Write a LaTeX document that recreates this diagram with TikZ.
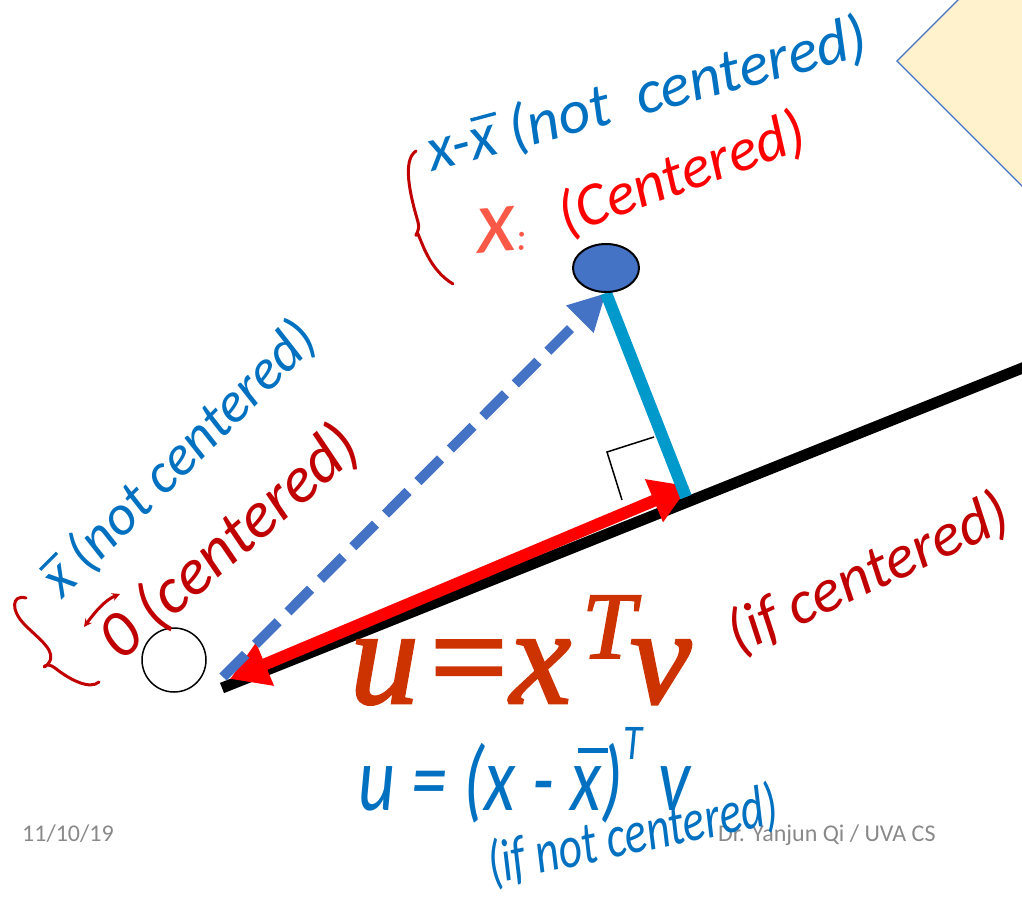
\documentclass[tikz,border=0pt]{standalone}
\usepackage{fontspec}
\setmainfont{Liberation Serif}
\newfontfamily\handfont{Carlito}
\newfontfamily\footfont{Carlito}
\newfontface\eqit{Liberation Serif Italic}[FakeBold=2]
\newfontface\equp{Liberation Serif}[FakeBold=2]
\usetikzlibrary{arrows.meta,shapes.geometric}
\definecolor{handblue}{RGB}{0,112,192}
\definecolor{handred}{RGB}{192,0,0}
\definecolor{brightred}{RGB}{255,0,0}
\definecolor{xred}{RGB}{250,60,40}
\definecolor{arrowred}{RGB}{255,0,0}
\definecolor{dashblue}{RGB}{68,114,196}
\definecolor{cyanline}{RGB}{0,153,204}
\definecolor{formulared}{RGB}{204,51,0}
\definecolor{diamondfill}{RGB}{255,242,204}
\definecolor{footgray}{RGB}{137,137,137}
\newcommand{\barx}{\leavevmode\rlap{\hspace{0.1em}\raisebox{0.62em}{\rule{0.42em}{0.055em}}}x}
\pgfdeclarelayer{bg}
\pgfsetlayers{bg,main}
\begin{document}
\begin{tikzpicture}[x=1pt,y=-1pt,
  hb/.style={text=handblue,inner sep=0pt,anchor=base west,font=\handfont\itshape\fontsize{#1}{#1}\selectfont},
  hr/.style={text=handred,inner sep=0pt,anchor=base west,font=\handfont\itshape\fontsize{#1}{#1}\selectfont},
  ink/.style={line width=3pt,line cap=round,line join=round},
  footer/.style={text=footgray,inner sep=0pt,anchor=base west,font=\footfont\fontsize{24}{24}\selectfont},
  pointnode/.style={ellipse,draw=black,line width=2pt,fill=dashblue,minimum width=66pt,minimum height=48pt,inner sep=0pt},
  originnode/.style={circle,draw=black,line width=1.5pt,minimum size=64pt,inner sep=0pt},
]
\useasboundingbox (0,0) rectangle (1022,901);
\clip (0,0) rectangle (1022,901);

% nodes on top
\node[pointnode] (pt) at (606,268) {};
\node[originnode] (orig) at (174,660) {};

\coordinate (O) at (223,677);
\coordinate (lineA) at (222,688);
\coordinate (lineB) at (1040,361);
\coordinate (foot) at (686,497);
\coordinate (redA) at (230,679);
\coordinate (redB) at (689,486);
\coordinate (ra1) at (654,437);
\coordinate (ra2) at (607,452);
\coordinate (ra3) at (622,500);

\begin{pgfonlayer}{bg}
  \filldraw[fill=diamondfill,draw=dashblue,line width=1.2pt]
    (897,61) -- (1197,-239) -- (1497,61) -- (1197,361) -- cycle;
  \node[footer] (date) at (22,841) {11/10/19};
  \node[footer] (author) at (718,841) {Dr. Yanjun Qi / UVA CS};
  \draw[line width=11pt] (lineA) -- (lineB);
  \draw[line width=1.5pt] (ra1) -- (ra2) -- (ra3);
  \draw[arrowred,line width=12pt,{Triangle[length=38pt,width=44pt]}-{Triangle[length=38pt,width=44pt]}] (redA) -- (redB);
  \draw[dashblue,line width=10pt,dash pattern=on 32pt off 14pt,-{Triangle[length=37pt,width=36pt]}] (O) -- (pt.south);
  \draw[cyanline,line width=12pt] (pt.south) -- (foot);
\end{pgfonlayer}

% big formula
\node[text=formulared,inner sep=0pt,anchor=base west,font=\fontsize{137}{137}\selectfont] (eq) at (350,703)
  {\makebox[80pt][l]{\eqit u}\makebox[80pt][l]{\equp =}\makebox[72pt][l]{\eqit x}\raisebox{45pt}{\makebox[48pt][l]{\fontsize{95}{95}\selectfont\eqit T}}\eqit v};

% handwritten annotations, top
\draw[handred,ink] (416,151) .. controls (402,160) and (410,195) .. (418,222)
  .. controls (421,232) and (412,238) .. (418,234)
  .. controls (423,245) and (430,270) .. (453,284);
\node[hb=62,rotate=15] (t1) at (432,172) {x-\barx{} (not\ \ centered)};
\node[text=xred,inner sep=0pt,anchor=base west,font=\handfont\itshape\fontsize{92}{92}\selectfont,opacity=0.85,rotate=5] (t2x) at (478,254) {x\fontsize{40}{40}\selectfont:};
\node[text=brightred,inner sep=0pt,anchor=base west,font=\handfont\itshape\fontsize{61}{61}\selectfont,rotate=20] (t2) at (566,236) {(Centered)};

% handwritten annotations, left
\draw[handred,ink] (26,598) .. controls (12,594) and (10,610) .. (25,625)
  .. controls (40,640) and (58,652) .. (48,664)
  .. controls (40,672) and (45,660) .. (55,668)
  .. controls (70,680) and (90,690) .. (99,682);
\draw[handred,ink,{Stealth[length=8pt,width=8pt]}-{Stealth[length=8pt,width=8pt]}] (84,627) .. controls (95,612) and (105,600) .. (120,594);
\node[hb=57,rotate=45] (t3) at (62,600) {\barx{} (not centered)};
\node[hr=66,rotate=41] (t4) at (121,663) {0 (centered)};

% handwritten annotations, right and bottom
\node[hr=62,rotate=25] (t5) at (738,655) {(if centered)};
\node[hb=92,xscale=0.78] (t6) at (358,810) {u = (x - \barx)\raisebox{0.55em}{\fontsize{50}{50}\selectfont T} v};
\node[hb=60,rotate=12,xscale=0.76] (t7) at (492,884) {(if not\ centered)};
\end{tikzpicture}
\end{document}
